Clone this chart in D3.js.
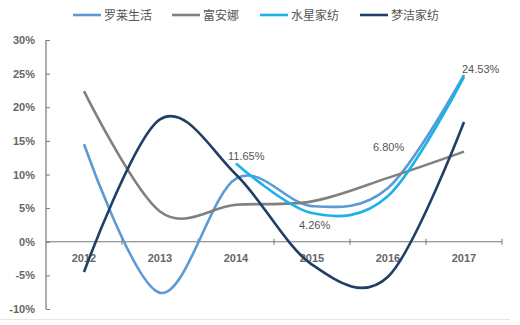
<!DOCTYPE html>
<html>
<head>
<meta charset="utf-8">
<script src="https://cdn.jsdelivr.net/npm/d3@7"></script>
<style>
  body { margin: 0; background: #fff; }
  svg { display: block; }
  .tick-lbl { font-family: "Liberation Sans", Arial, sans-serif; font-size: 11px; font-weight: bold; fill: #666; }
  .data-lbl { font-family: "Liberation Sans", Arial, sans-serif; font-size: 11px; fill: #555; }
  .legend-lbl { font-family: "Noto Sans CJK SC", sans-serif; font-size: 12px; fill: #555; }
</style>
</head>
<body>
<div id="chart"></div>
<script>
// values (percent)
var years = ["2012", "2013", "2014", "2015", "2016", "2017"];
var seriesNames = ["罗莱生活", "富安娜", "水星家纺", "梦洁家纺"];
var luolai   = [14.5, -7.6, 9.4, 5.3, 8.0, 24.8];
var fuanna   = [22.4, 4.5, 5.5, 6.0, 9.5, 13.4];
var shuixing = [null, null, 11.65, 4.26, 6.80, 24.53];
var mengjie  = [-4.5, 18.2, 10.0, -3.4, -5.2, 17.8];
var yTicks = [-10, -5, 0, 5, 10, 15, 20, 25, 30];
// labelled points: [series index, year index, text]
var pointLabels = [[2, 2, "11.65%"], [2, 3, "4.26%"], [2, 4, "6.80%"], [2, 5, "24.53%"]];

var colors = ["#5b9bd5", "#808080", "#1db1ea", "#213f66"];
var allSeries = [luolai, fuanna, shuixing, mengjie];

var W = 520, H = 325;
var marg = {top: 40, bot: 16, left: 46, right: 18};

var svg = d3.select("#chart").append("svg")
  .attr("width", W).attr("height", H);

var x = d3.scaleBand().domain(years).range([marg.left, W - marg.right]).paddingInner(0).paddingOuter(0);
var y = d3.scaleLinear().domain([-10, 30]).range([H - marg.bot, marg.top]);
var cx = function(yr) { return x(yr) + x.bandwidth() / 2; };

// y axis
var yAxis = d3.axisLeft(y).tickValues(yTicks).tickSize(-4).tickPadding(11)
  .tickFormat(function(d) { return d + "%"; });
var gy = svg.append("g").attr("transform", "translate(" + marg.left + ",0)").call(yAxis);
gy.select(".domain").attr("stroke", "#777").attr("stroke-width", 1.2).attr("d", "M0," + y(30) + "V" + y(-10));
gy.selectAll(".tick line").attr("stroke", "#777");
gy.selectAll(".tick text").attr("class", "tick-lbl").attr("x", -11);

// x axis on the zero line
var gx = svg.append("g").attr("transform", "translate(0," + y(0) + ")");
gx.append("line").attr("x1", marg.left).attr("x2", W - marg.right)
  .attr("stroke", "#777").attr("stroke-width", 1.2);
gx.selectAll(".xtick").data(years.slice(1).concat(["end"])).enter().append("line")
  .attr("x1", function(d, i) { return marg.left + (i + 1) * x.bandwidth(); })
  .attr("x2", function(d, i) { return marg.left + (i + 1) * x.bandwidth(); })
  .attr("y1", -3).attr("y2", 3).attr("stroke", "#777");
gx.selectAll(".xlbl").data(years).enter().append("text")
  .attr("class", "tick-lbl").attr("text-anchor", "middle")
  .attr("x", function(d) { return cx(d); }).attr("y", 20)
  .text(function(d) { return d; });

// lines (smoothed like excel)
for (var k = 0; k < allSeries.length; k++) {
  var vals = allSeries[k];
  var start = vals.findIndex(function(v) { return v != null; });
  var pts = vals.slice(start);
  var s = start;
  svg.append("path")
    .datum(pts)
    .attr("fill", "none")
    .attr("stroke", colors[k])
    .attr("stroke-width", 2.6)
    .attr("d", d3.line()
      .x(function(d, i) { return cx(years[s + i]); })
      .y(function(d) { return y(d); })
      .curve(d3.curveCardinal.tension(0)));
}

// data labels
var lblOffsets = {"11.65%": [-8, -3], "4.26%": [-13, 16], "6.80%": [-15, -45], "24.53%": [-2, -4]};
svg.selectAll(".data-lbl").data(pointLabels).enter().append("text")
  .attr("class", "data-lbl")
  .attr("x", function(d) { return cx(years[d[1]]) + lblOffsets[d[2]][0]; })
  .attr("y", function(d) { return y(allSeries[d[0]][d[1]]) + lblOffsets[d[2]][1]; })
  .text(function(d) { return d[2]; });

// legend
var legendX = [73, 172, 260, 360];
var lg = svg.append("g").attr("transform", "translate(0,15)");
seriesNames.forEach(function(name, i) {
  lg.append("line").attr("x1", legendX[i]).attr("x2", legendX[i] + 28)
    .attr("stroke", colors[i]).attr("stroke-width", 2.6);
  lg.append("text").attr("class", "legend-lbl")
    .attr("x", legendX[i] + 31).attr("y", 4.5).text(name);
});

// faint bottom border of the image
svg.append("line").attr("x1", 0).attr("x2", 510).attr("y1", 319.5).attr("y2", 319.5)
  .attr("stroke", "#e6e6e6");
</script>
</body>
</html>
